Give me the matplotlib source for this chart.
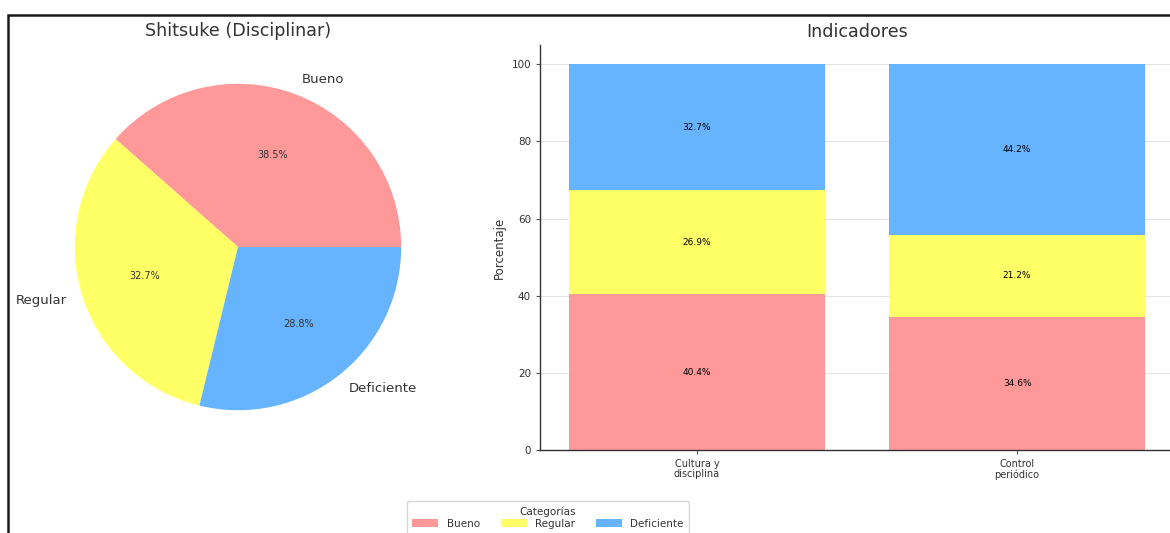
import matplotlib.pyplot as plt
from matplotlib.patches import Rectangle, Patch
import numpy as np

# categorias y colores
categorias = ["Bueno", "Regular", "Deficiente"]
colores = ["#ff9999", "#ffff66", "#66b3ff"]

# pastel: Shitsuke (Disciplinar)
pie_valores = [38.5, 32.7, 28.8]

# barras apiladas por indicador
indicadores = ["Cultura y\ndisciplina", "Control\nperiódico"]
bueno = [40.4, 34.6]
regular = [26.9, 21.2]
deficiente = [32.7, 44.2]

fig = plt.figure(figsize=(11.7, 5.33), dpi=100)

# marco exterior
fig.patches.append(Rectangle((8 / 1170, -0.2), 1.2, 1.2 - 15 / 533,
                             transform=fig.transFigure, fill=False,
                             edgecolor="#1a1a1a", lw=1.8))

# --- grafico de pastel ---
ax1 = fig.add_axes([34 / 1170, 82 / 533, 408 / 1170, 408 / 533])
ax1.pie(pie_valores, labels=categorias, colors=colores, autopct="%1.1f%%",
        startangle=0, textprops={"fontsize": 9.5, "color": "#333333"})
for t in ax1.texts:
    if t.get_text().endswith("%"):
        t.set_fontsize(7)
ax1.set_xlim(-1.25, 1.25)
ax1.set_ylim(-1.25, 1.25)
ax1.set_aspect("equal")
ax1.set_title("Shitsuke (Disciplinar)", fontsize=12.6, color="#333333", pad=5)

# --- barras apiladas ---
ax2 = fig.add_axes([540 / 1170, 83 / 533, 634 / 1170, 405 / 533])
x = np.arange(len(indicadores))
bases = np.zeros(len(indicadores))
for nombre, vals, c in zip(categorias, [bueno, regular, deficiente], colores):
    barras = ax2.bar(x, vals, bottom=bases, color=c, width=0.8, zorder=2)
    for b, v in zip(barras, vals):
        ax2.text(b.get_x() + b.get_width() / 2, b.get_y() + v / 2, f"{v}%",
                 ha="center", va="center", fontsize=6.5, color="black")
    bases += np.array(vals)

ax2.set_xlim(-0.49, 1.49)
ax2.set_ylim(0, 105)
ax2.set_xticks(x)
ax2.set_xticklabels(indicadores, fontsize=7, color="#333333", linespacing=1.0)
ax2.tick_params(axis="y", labelsize=7.5, labelcolor="#333333", length=3, color="#555555")
ax2.tick_params(axis="x", length=3, color="#555555")
ax2.set_ylabel("Porcentaje", fontsize=8.5, color="#333333")
ax2.set_title("Indicadores", fontsize=12.6, color="#333333", pad=6)
ax2.yaxis.grid(True, color="#e3e3e3", lw=0.8, zorder=0)
ax2.set_axisbelow(True)
for s in ["top", "right"]:
    ax2.spines[s].set_visible(False)
for s in ["left", "bottom"]:
    ax2.spines[s].set_color("#333333")
    ax2.spines[s].set_linewidth(1.0)

# leyenda comun
handles = [Patch(facecolor=c, label=n) for n, c in zip(categorias, colores)]
leg = fig.legend(handles=handles, title="Categorías", loc="upper center",
                 bbox_to_anchor=(548 / 1170, (533 - 496) / 533), ncol=3,
                 fontsize=7.5, title_fontsize=7.5, frameon=True,
                 handlelength=2.5, handleheight=0.8, columnspacing=2.0,
                 borderpad=0.5, labelspacing=0.2)
for t in leg.get_texts():
    t.set_color("#333333")
leg.get_title().set_color("#333333")

fig.savefig("out.png", dpi=100, facecolor="white")
